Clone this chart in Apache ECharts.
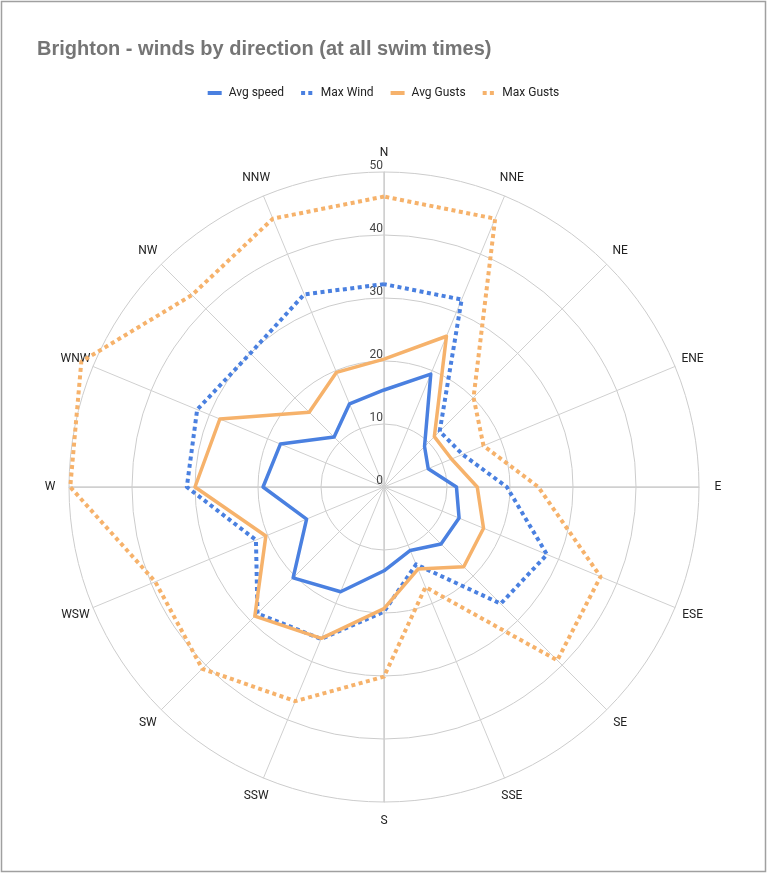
<!DOCTYPE html>
<html>
<head>
<meta charset="utf-8">
<title>Brighton winds</title>
<script src="https://cdn.jsdelivr.net/npm/echarts@6/dist/echarts.min.js"></script>
<style>
  html, body { margin: 0; padding: 0; background: #fff; }
  #chart { width: 767px; height: 874px; }
</style>
</head>
<body>
<div id="chart"></div>
<script>
// compass order, clockwise from N
var directions = ['N', 'NNE', 'NE', 'ENE', 'E', 'ESE', 'SE', 'SSE', 'S', 'SSW', 'SW', 'WSW', 'W', 'WNW', 'NW', 'NNW'];
var avgSpeed = [15.4, 19.4, 9.1, 7.6, 11.5, 12.9, 12.8, 10.9, 13.3, 18.0, 20.4, 13.3, 19.2, 17.8, 11.2, 14.3];
var maxWind  = [32.2, 32.2, 12.5, 13.5, 19.5, 28.0, 26.2, 13.3, 19.8, 26.1, 28.4, 22.0, 31.3, 32.1, 30.0, 33.1];
var avgGusts = [20.3, 25.9, 11.3, 11.6, 14.8, 17.1, 17.9, 14.1, 19.3, 26.0, 29.0, 20.3, 30.0, 28.2, 16.8, 19.7];
var maxGusts = [46.1, 46.1, 20.1, 17.1, 24.5, 37.2, 38.9, 17.2, 30.1, 36.8, 40.8, 39.3, 49.8, 52.0, 43.1, 46.1];
var seriesNames = ['Avg speed', 'Max Wind', 'Avg Gusts', 'Max Gusts'];
var maxValue = 50;

var BLUE = '#4a80e0';
var ORANGE = '#f6b26b';

// echarts radar runs counter-clockwise, so flip the order after N
function clockwise(arr) {
  return [arr[0]].concat(arr.slice(1).reverse());
}

var indicators = clockwise(directions).map(function (d, i) {
  var ind = { name: d, max: maxValue, min: 0 };
  if (i === 0) {
    ind.axisLabel = {
      show: true,
      color: '#444',
      fontSize: 12,
      fontFamily: 'Roboto',
      align: 'right',
      verticalAlign: 'bottom',
      margin: 1
    };
  }
  return ind;
});

function radarSeries(name, values, color, dotted) {
  return {
    type: 'radar',
    name: name,
    symbol: 'none',
    z: 3,
    data: [{
      name: name,
      value: clockwise(values),
      lineStyle: {
        color: color,
        width: dotted ? 4 : 3.5,
        type: dotted ? [4, 3.5] : 'solid',
        cap: 'butt',
        join: 'round'
      },
      itemStyle: { color: color }
    }]
  };
}

var dotsIcon = 'path://M0,0h5v5h-5z M9,0h5v5h-5z';

var chart = echarts.init(document.getElementById('chart'));
chart.setOption({
  animation: false,
  title: {
    text: 'Brighton - winds by direction (at all swim times)',
    left: 37,
    top: 39,
    padding: 0,
    textStyle: { color: '#757575', fontSize: 20, fontWeight: 'bold', fontFamily: '"Liberation Sans", Arial' }
  },
  legend: {
    top: 82,
    left: 'center',
    itemWidth: 14,
    itemHeight: 4,
    itemGap: 17,
    textStyle: { color: '#222', fontSize: 12, fontFamily: 'Roboto', padding: [0, 0, 0, 2] },
    data: [
      { name: seriesNames[0], icon: 'rect', itemStyle: { color: BLUE } },
      { name: seriesNames[1], icon: dotsIcon, itemStyle: { color: BLUE } },
      { name: seriesNames[2], icon: 'rect', itemStyle: { color: ORANGE } },
      { name: seriesNames[3], icon: dotsIcon, itemStyle: { color: ORANGE } }
    ]
  },
  radar: {
    center: [384, 487],
    radius: 315,
    shape: 'circle',
    splitNumber: 5,
    indicator: indicators,
    nameGap: 19,
    axisName: {
      color: '#222', fontSize: 12, fontFamily: 'Roboto',
      align: 'center', verticalAlign: 'middle'
    },
    axisLine: { lineStyle: { color: '#d0d0d0', width: 1 } },
    splitLine: { lineStyle: { color: '#cccccc', width: 1 } },
    splitArea: { show: false },
    axisLabel: { show: false },
    axisTick: { show: false }
  },
  // heavier N-S / E-W lines drawn underneath
  polar: { center: [384, 487], radius: 315 },
  angleAxis: {
    type: 'value', min: 0, max: 360, interval: 90, startAngle: 90,
    axisLine: { show: false }, axisTick: { show: false }, axisLabel: { show: false },
    splitLine: { show: true, lineStyle: { color: '#dcdcdc', width: 2 } }
  },
  radiusAxis: {
    min: 0, max: maxValue, show: false,
    axisLine: { show: false }, axisTick: { show: false }, axisLabel: { show: false },
    splitLine: { show: false }
  },
  graphic: [{
    type: 'rect',
    shape: { x: 1.5, y: 1.5, width: 764, height: 870 },
    style: { fill: 'none', stroke: '#a0a0a0', lineWidth: 1.5 },
    silent: true
  }],
  series: [
    radarSeries(seriesNames[0], avgSpeed, BLUE, false),
    radarSeries(seriesNames[1], maxWind, BLUE, true),
    radarSeries(seriesNames[2], avgGusts, ORANGE, false),
    radarSeries(seriesNames[3], maxGusts, ORANGE, true)
  ]
});
</script>
</body>
</html>
